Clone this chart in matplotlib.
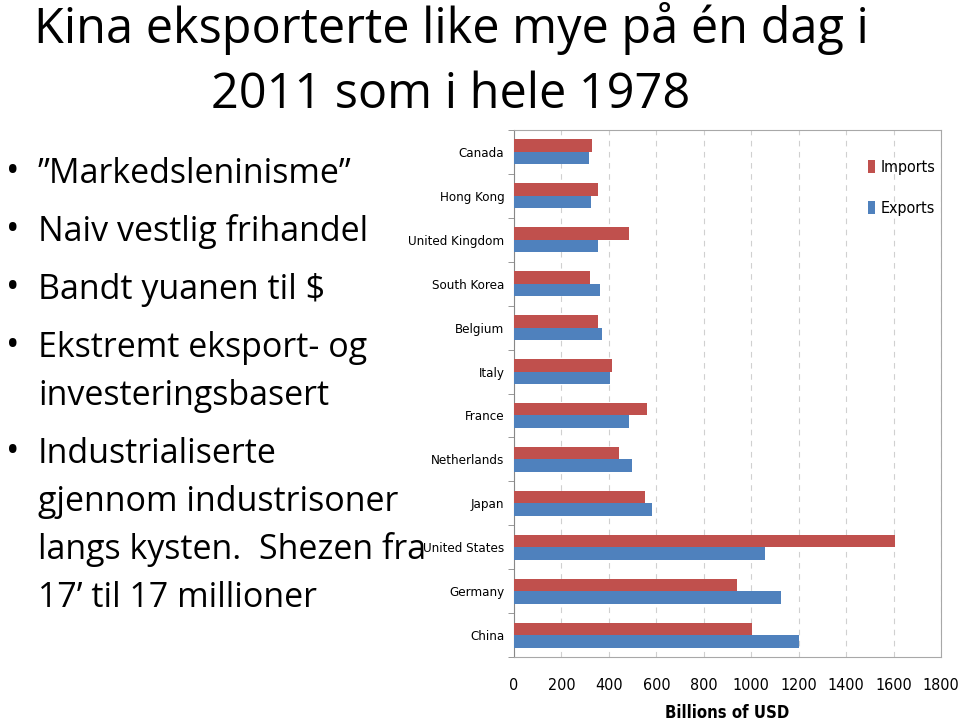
import matplotlib.pyplot as plt
from matplotlib import font_manager
from matplotlib.patches import Rectangle
from matplotlib.ticker import MultipleLocator, FixedLocator

# data (billions of USD), bottom to top
countries = ["China", "Germany", "United States", "Japan", "Netherlands", "France",
             "Italy", "Belgium", "South Korea", "United Kingdom", "Hong Kong", "Canada"]
imports = [1005, 940, 1607, 551, 444, 560, 413, 352, 322, 484, 352, 329]
exports = [1201, 1127, 1058, 581, 497, 484, 405, 370, 364, 352, 326, 316]

title_lines = ["Kina eksporterte like mye på én dag i", "2011 som i hele 1978"]
bullets = [
    ("”Markedsleninisme”", True),
    ("Naiv vestlig frihandel", True),
    ("Bandt yuanen til $", True),
    ("Ekstremt eksport- og", True),
    ("investeringsbasert", False),
    ("Industrialiserte", True),
    ("gjennom industrisoner", False),
    ("langs kysten.  Shezen fra", False),
    ("17’ til 17 millioner", False),
]

W, H = 960, 727
fig = plt.figure(figsize=(9.6, 7.27), dpi=100)
slide_font = ["Open Sans", "DejaVu Sans"]

# narrow font for the chart if one is there
fonts = font_manager.fontManager.ttflist
names = {f.name for f in fonts}
chart_stretch = "normal"
if "Liberation Sans Narrow" in names:
    chart_font = ["Liberation Sans Narrow", "DejaVu Sans"]
elif any(f.name == "DejaVu Sans" and f.stretch == "condensed" for f in fonts):
    chart_font = ["DejaVu Sans"]
    chart_stretch = "condensed"
else:
    chart_font = ["Liberation Sans", "DejaVu Sans"]
chart_kw = dict(family=chart_font, stretch=chart_stretch)

# slide title and bullets
for i, line in enumerate(title_lines):
    fig.text(451 / W, 1 - (43 + i * 65) / H, line, ha="center", va="baseline",
             fontsize=35, color="black", zorder=3, family=slide_font)

y = None
for text, dot in bullets:
    y = 183 if y is None else y + (58 if dot else 48)
    if dot:
        fig.text(6 / W, 1 - (y - 1) / H, "•", ha="left", va="baseline",
                 fontsize=26, family=slide_font, zorder=3)
    fig.text(38 / W, 1 - y / H, text, ha="left", va="baseline",
             fontsize=24.5, family=slide_font, zorder=3)

# white backing of the chart picture (covers the end of a bullet line)
fig.patches.append(Rectangle((432 / W, 0), 1, 1 - 125 / H, transform=fig.transFigure,
                             facecolor="white", edgecolor="none", zorder=4))

ax = fig.add_axes([514 / W, 1 - 657 / H, 427 / W, 527 / H])
ax.set_zorder(5)

pos = list(range(len(countries)))
h = 0.285
ax.barh([p + h / 2 for p in pos], imports, h, color="#C0504D", label="Imports", zorder=3)
ax.barh([p - h / 2 for p in pos], exports, h, color="#4F81BD", label="Exports", zorder=3)

ax.set_xlim(0, 1800)
ax.set_ylim(-0.5, len(countries) - 0.5)
ax.xaxis.set_major_locator(MultipleLocator(200))
ax.set_yticks(pos)
ax.set_yticklabels(countries, fontsize=9.5, **chart_kw)
ax.yaxis.set_minor_locator(FixedLocator([p - 0.5 for p in pos] + [len(pos) - 0.5]))
ax.tick_params(axis="y", which="major", length=0, pad=7)
ax.tick_params(axis="y", which="minor", length=4, color="#888888")
ax.tick_params(axis="x", length=0, pad=15)
for lbl in ax.get_xticklabels():
    lbl.set_family(chart_font)
    lbl.set_stretch(chart_stretch)
    lbl.set_fontsize(11.5)
ax.grid(axis="x", linestyle=(0, (5, 5)), color="#d0d0d0", linewidth=0.8, zorder=0)
for side in ["top", "right", "bottom"]:
    ax.spines[side].set_color("#a8a8a8")
ax.spines["left"].set_color("#888888")
ax.set_xlabel("Billions of USD", fontsize=12, fontweight="bold", labelpad=8, **chart_kw)

ax.legend(loc="upper right", bbox_to_anchor=(1.02, 0.97), frameon=False, handlelength=0.5,
          handleheight=0.9, handletextpad=0.3, labelspacing=1.6,
          prop={"family": chart_font, "stretch": chart_stretch, "size": 11.5})

plt.savefig("out.png", dpi=100)
